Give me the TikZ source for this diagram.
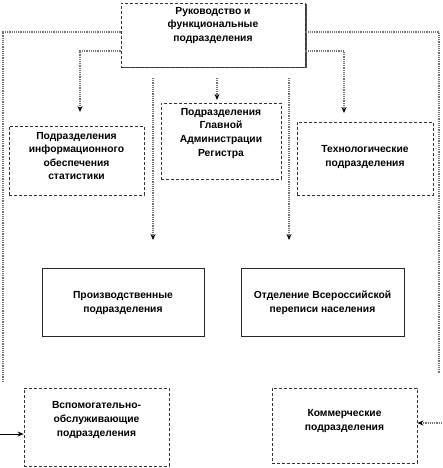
\documentclass[tikz,border=0pt]{standalone}
\usepackage{fontspec}
\setmainfont{Liberation Sans}
\usetikzlibrary{arrows.meta,shadows}
\begin{document}
\begin{tikzpicture}[x=1pt,y=-1pt,
  box/.style={draw=black!80,line width=0.8pt,densely dashed,inner sep=0pt,fill=white},
  solidbox/.style={draw=black!85,line width=0.8pt,inner sep=0pt,fill=white},
  txt/.style={font=\bfseries\fontsize{10.3}{13.6}\selectfont,align=center,inner sep=0pt},
  conn/.style={draw=black!55,line width=1.2pt,densely dotted},
  arr/.style={conn,-{Stealth[length=6pt,width=5pt,color=black,fill=black]}},
  solarr/.style={draw=black,line width=0.8pt,-{Stealth[length=6pt,width=5pt]}}]
\useasboundingbox (0,0) rectangle (442,468);
% boxes
\node[box,minimum width=184pt,minimum height=64pt,drop shadow={shadow xshift=1.5pt,shadow yshift=-1.5pt,fill=black!70,opacity=1}] (top) at (213,35) {};
\node[txt,anchor=north] at (213,7) {Руководство и\\функциональные\\подразделения};

\node[box,minimum width=135pt,minimum height=69pt] (info) at (76.5,160.5) {};
\node[txt] at (76.5,156) {Подразделения\\информационного\\обеспечения\\статистики};

\node[box,minimum width=120pt,minimum height=76pt] (reg) at (221,141) {};
\node[txt,anchor=north] at (221,108) {Подразделения\\Главной\\Администрации\\Регистра};

\node[box,minimum width=136pt,minimum height=73pt] (tech) at (365,158.5) {};
\node[txt] at (365,157) {Технологические\\подразделения};

\node[solidbox,minimum width=162pt,minimum height=68pt] (prod) at (123,302) {};
\node[txt] at (123,303) {Производственные\\подразделения};

\node[solidbox,minimum width=163pt,minimum height=68pt] (otd) at (322.5,302) {};
\node[txt] at (322.5,303) {Отделение Всероссийской\\переписи населения};

\node[box,minimum width=145pt,minimum height=78pt] (vsp) at (96.5,427) {};
\node[txt] at (96.5,420) {Вспомогательно-\\обслуживающие\\подразделения};

\node[box,minimum width=145pt,minimum height=75pt] (kom) at (344.5,425.5) {};
\node[txt] at (344.5,421) {Коммерческие\\подразделения};

% free ends
\coordinate (lo) at (3,383);
\coordinate (ro) at (439,373);
\coordinate (la) at (80,112);
\coordinate (ra) at (344,113);
\coordinate (ma) at (217,100);
\coordinate (ms) at (217,78);
\coordinate (v1s) at (153,78);
\coordinate (v1e) at (153,240);
\coordinate (v2s) at (289,78);
\coordinate (v2e) at (289,240);
\coordinate (lin) at (0,434);
\coordinate (rin) at (442,423);

% connectors
\draw[conn] ([yshift=3pt]top.west) -| (lo);
\draw[conn] ([yshift=3pt]top.east) -| (ro);
\draw[arr] ([yshift=-16pt]top.west) -| (la);
\draw[arr] ([yshift=-16pt]top.east) -| (ra);
\draw[arr] (ms) -- (ma);
\draw[arr] (v1s) -- (v1e);
\draw[arr] (v2s) -- (v2e);
\draw[solarr] (lin) -- (vsp.west |- lin);
\draw[arr] (rin) -- (kom.east |- rin);
\end{tikzpicture}
\end{document}
